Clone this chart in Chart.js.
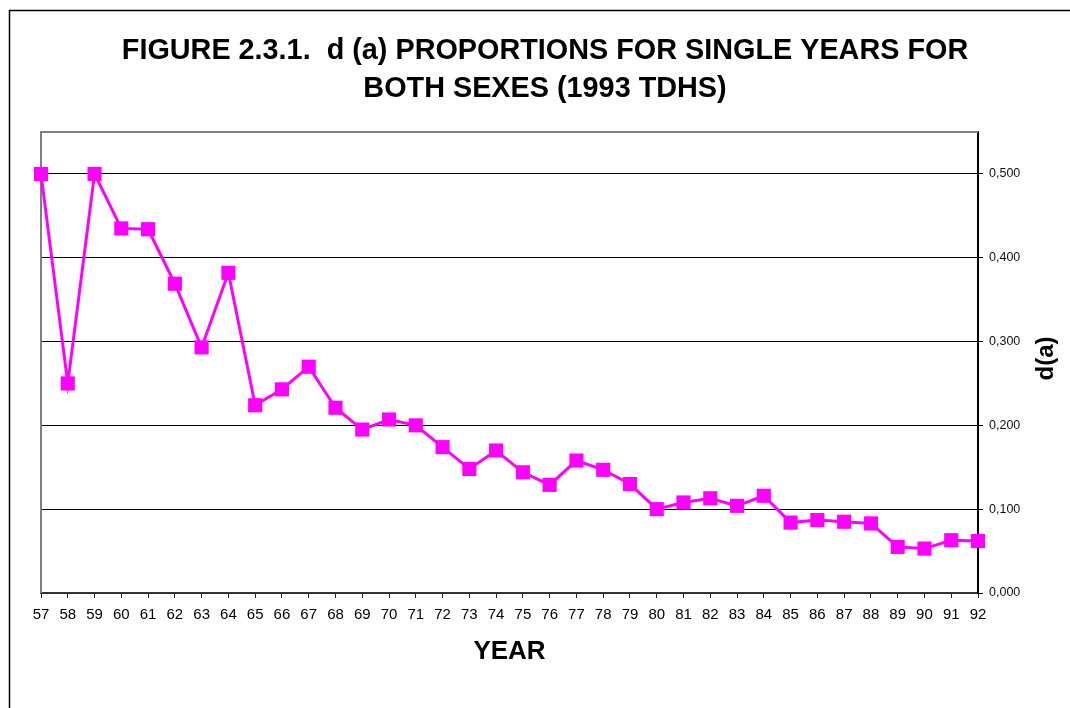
<!DOCTYPE html>
<html>
<head>
<meta charset="utf-8">
<script src="https://cdn.jsdelivr.net/npm/chart.js@4.4.1/dist/chart.umd.min.js"></script>
<style>
  html, body { margin: 0; padding: 0; background: #fff; }
  #wrap { width: 1070px; height: 708px; position: relative; }
</style>
</head>
<body>
<div id="wrap"><canvas id="c"></canvas></div>
<script>
// Single years of birth (19xx)
const years = ['57','58','59','60','61','62','63','64','65','66','67','68','69','70','71','72','73','74',
               '75','76','77','78','79','80','81','82','83','84','85','86','87','88','89','90','91','92'];
// d(a) proportion for each single year, both sexes
const dA = [0.500, 0.250, 0.500, 0.435, 0.434, 0.369, 0.293, 0.382, 0.224, 0.243, 0.270, 0.221,
            0.195, 0.207, 0.200, 0.174, 0.148, 0.170, 0.144, 0.129, 0.158, 0.147, 0.130, 0.100,
            0.108, 0.113, 0.104, 0.116, 0.084, 0.087, 0.085, 0.083, 0.055, 0.053, 0.063, 0.062];
const titleLines = ['FIGURE 2.3.1.  d (a) PROPORTIONS FOR SINGLE YEARS FOR', 'BOTH SEXES (1993 TDHS)'];
const xTitle = 'YEAR';
const yTitle = 'd(a)';

const FONT = '"Liberation Sans", Arial, Helvetica, sans-serif';

// Page frame, plot frame, heading and the rotated value-axis title
const decorations = {
  id: 'decorations',
  beforeDraw(chart) {
    const ctx = chart.ctx;
    ctx.save();
    ctx.fillStyle = '#fff';
    ctx.fillRect(0, 0, chart.width, chart.height);
    ctx.strokeStyle = '#000';
    ctx.lineWidth = 1.5;
    ctx.beginPath();
    ctx.moveTo(9.5, chart.height);
    ctx.lineTo(9.5, 10.5);
    ctx.lineTo(chart.width, 10.5);
    ctx.stroke();
    ctx.restore();
  },
  beforeDatasetsDraw(chart) {
    const {ctx, chartArea: a} = chart;
    ctx.save();
    ctx.strokeStyle = '#808080';
    ctx.lineWidth = 2;
    ctx.beginPath();
    ctx.moveTo(a.left, a.bottom);
    ctx.lineTo(a.left, a.top);
    ctx.lineTo(a.right, a.top);
    ctx.stroke();
    ctx.restore();
  },
  afterDraw(chart) {
    const {ctx, chartArea: a} = chart;
    ctx.save();
    ctx.fillStyle = '#000';
    ctx.textAlign = 'center';
    ctx.textBaseline = 'middle';
    ctx.font = 'bold 28.8px ' + FONT;
    titleLines.forEach((t, i) => ctx.fillText(t, 545, 51 + i * 38));
    ctx.translate(1046, (a.top + a.bottom) / 2 - 4);
    ctx.rotate(-Math.PI / 2);
    ctx.font = 'bold 24px ' + FONT;
    ctx.fillText(yTitle, 0, 0);
    ctx.restore();
  }
};

new Chart(document.getElementById('c'), {
  type: 'line',
  data: {
    labels: years,
    datasets: [{
      data: dA,
      borderColor: '#ff00ff',
      backgroundColor: '#ff00ff',
      borderWidth: 3,
      tension: 0,
      pointStyle: 'rect',
      pointRadius: 10,
      pointHoverRadius: 10,
      pointBorderWidth: 0,
      pointBackgroundColor: '#ff00ff',
      clip: false
    }]
  },
  options: {
    responsive: true,
    maintainAspectRatio: false,
    animation: false,
    layout: { padding: { left: 41, top: 132, right: 0, bottom: 0 } },
    plugins: {
      legend: { display: false },
      title: { display: false },
      tooltip: { enabled: false }
    },
    scales: {
      x: {
        type: 'category',
        offset: false,
        afterFit(s) { s.height = 115; },
        grid: { drawOnChartArea: false, drawTicks: true, tickLength: 5, color: '#222', lineWidth: 1 },
        border: { color: '#333', width: 2 },
        ticks: { autoSkip: false, maxRotation: 0, minRotation: 0, color: '#000', padding: 8,
                 font: { family: FONT, size: 15 } },
        title: { display: true, text: xTitle, color: '#000',
                 font: { family: FONT, size: 26, weight: 'bold' },
                 padding: { top: 0, bottom: 41 } }
      },
      y: {
        position: 'right',
        min: 0,
        max: 0.55,
        afterFit(s) { s.width = 92; },
        afterBuildTicks(s) { s.ticks = s.ticks.filter(t => t.value <= 0.5 + 1e-9); },
        grid: { color: '#000', lineWidth: 1, tickLength: 5, drawTicks: true },
        border: { color: '#000', width: 2 },
        ticks: { stepSize: 0.1, color: '#111', padding: 6,
                 font: { family: FONT, size: 12.5 },
                 callback: v => Number(v).toFixed(3).replace('.', ',') }
      }
    }
  },
  plugins: [decorations]
});
</script>
</body>
</html>
